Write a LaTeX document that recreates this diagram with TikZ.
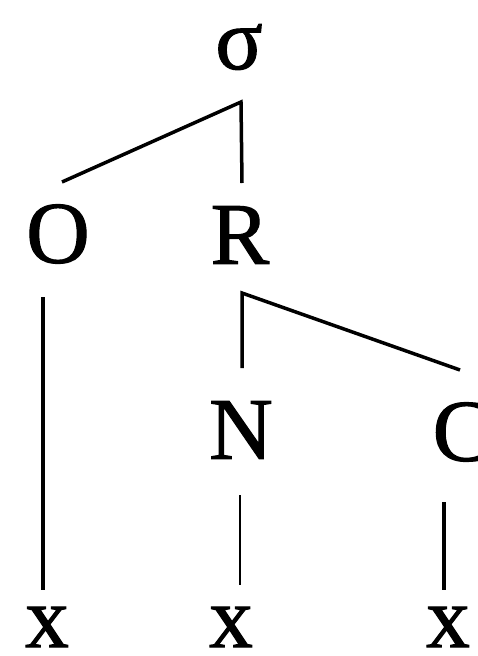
\documentclass[tikz,border=0pt]{standalone}
\usepackage{fontspec}
\setmainfont{Liberation Serif}[FakeBold=1.2]
\tikzset{
  lbl/.style={inner sep=0pt, font=\fontsize{88}{88}\selectfont},
  branch/.style={line width=3.5pt}
}
\begin{document}
\begin{tikzpicture}[x=1pt,y=-1pt]
  \useasboundingbox (0,0) rectangle (477,656);
  % labels
  \node[lbl] (sigma) at (239,47) {σ};
  \node[lbl] (O) at (58,234) {O};
  \node[lbl] (R) at (240,235) {R};
  \node[lbl] (N) at (241,430) {N};
  \node[lbl] (C) at (462,432) {C};
  \node[lbl] (xO) at (47,627) {x};
  \node[lbl] (xN) at (231,627) {x};
  \node[lbl] (xC) at (448,627) {x};
  % ends of the branches
  \coordinate (sigma-j) at (241,102);
  \coordinate (O-up) at (62,182);
  \coordinate (R-up) at (242,183);
  \coordinate (R-j) at (242,293);
  \coordinate (N-up) at (242,368);
  \coordinate (C-up) at (460,370);
  \coordinate (O-dn) at (43,297);
  \coordinate (xO-up) at (43,590);
  \coordinate (N-dn) at (240,495);
  \coordinate (xN-up) at (240,585);
  \coordinate (C-dn) at (444,502);
  \coordinate (xC-up) at (444,590);
  % branches
  \draw[branch] (O-up) -- (sigma-j) -- (R-up);
  \draw[branch] (N-up) -- (R-j) -- (C-up);
  \draw[branch] (O-dn) -- (xO-up);
  \draw[branch,line width=2.8pt] (N-dn) -- (xN-up);
  \draw[branch] (C-dn) -- (xC-up);
\end{tikzpicture}
\end{document}
